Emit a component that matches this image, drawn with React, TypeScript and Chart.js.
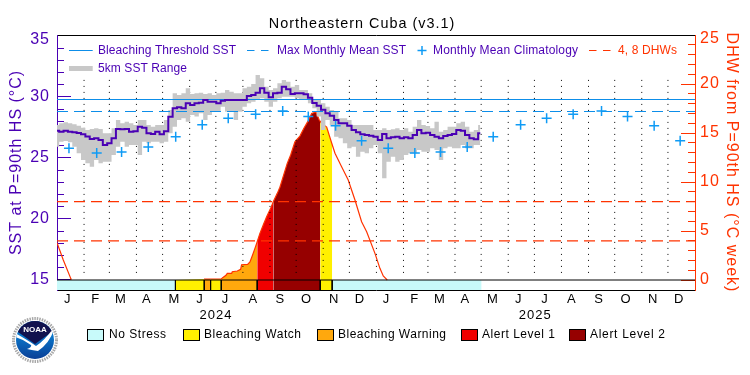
import React, { useEffect, useRef } from "react";
import { Chart, registerables } from "chart.js";

Chart.register(...registerables);

const titleText = "Northeastern Cuba (v3.1)";
const leftTitle = "SST at P=90th HS (°C)";
const rightTitle = "DHW from P=90th HS (°C week)";

const monthLabels = ["J","F","M","A","M","J","J","A","S","O","N","D","J","F","M","A","M","J","J","A","S","O","N","D"];
const monthLabelDays = [12.3,44.3,73.3,103,134.4,163.8,193,225,256,286,317.6,347,377.6,410,438.7,468,499.6,529,559,590,621,652,683,713];
const monthStartDays = [31,60,91,121,152,182,213,244,274,305,335,366,397,425,456,486,517,547,578,609,639,670,700];
const yearLabels = ["2024", "2025"];
const yearLabelDays = [182.2, 547.9];

const sstLabelTicks = [15, 20, 25, 30, 34.67];
const sstMajorTicks = [15, 20, 25, 30, 35];
const sstMinorTicks = [15,16,17,18,19,20,21,22,23,24,25,26,27,28,29,30,31,32,33,34,35];
const dhwLabelTicks = [0, 5, 10, 15, 20, 24.6];
const dhwMajorTicks = [0, 5, 10, 15, 20, 25];
const dhwMinorTicks = [0,1,2,3,4,5,6,7,8,9,10,11,12,13,14,15,16,17,18,19,20,21,22,23,24,25];

const sampleStepDays = 5;
const sstMean = [
  27.24,27.15,27.24,27.15,27.10,27.05,26.94,26.77,26.55,26.61,26.47,26.06,26.20,26.61,27.37,27.35,27.37,27.15,27.20,27.56,27.48,27.02,26.96,27.15,26.94,27.20,28.38,
  29.07,29.15,29.07,29.48,29.34,29.48,29.53,29.75,29.61,29.61,29.48,29.70,29.75,29.75,29.75,29.75,29.75,30.08,30.16,30.35,30.71,30.35,29.97,30.30,30.35,30.84,30.63,
  30.24,30.30,30.30,30.22,29.94,29.50,29.29,28.96,28.66,28.47,28.11,27.84,27.84,27.65,27.29,27.10,26.94,26.88,26.83,26.75,
  26.47,26.96,26.61,26.69,26.74,26.61,26.69,26.61,26.88,27.29,27.02,27.07,26.88,26.74,26.61,26.80,26.88,26.96,27.29,27.24,26.88,26.61,26.53,27.02,
];
const sstMax = [
  27.70,27.84,27.92,27.84,27.76,27.65,27.48,27.29,27.37,27.43,27.37,27.02,27.02,27.43,28.11,27.84,27.97,27.84,27.70,28.11,28.11,27.70,27.56,27.70,27.70,28.11,28.93,
  30.30,30.16,30.30,30.71,30.24,30.30,30.35,30.24,30.30,30.16,30.30,30.35,30.57,30.43,30.30,30.30,30.71,30.84,31.06,31.80,31.53,30.84,30.57,30.71,31.12,31.39,31.25,
  30.84,30.98,30.57,30.57,30.30,29.75,29.75,29.48,29.20,28.93,28.79,28.25,28.25,28.11,27.70,27.70,27.70,27.70,27.70,27.29,
  27.29,27.43,27.29,27.35,27.43,27.29,27.43,27.15,27.56,28.11,27.70,27.62,27.43,27.97,27.15,27.29,27.56,27.56,27.84,27.97,27.56,27.15,27.29,27.70,
];
const sstMin = [
  25.92,26.33,26.39,26.28,25.92,25.38,24.83,24.56,24.29,24.83,24.56,24.70,24.70,25.24,25.92,26.33,25.92,26.06,26.06,25.24,26.33,26.20,26.33,26.33,26.20,26.33,27.02,
  27.57,28.11,28.25,27.97,28.52,28.39,28.66,28.11,28.52,28.79,28.79,29.20,28.79,28.79,28.11,28.79,29.20,29.48,29.61,29.75,29.89,29.61,29.20,29.61,29.89,30.02,30.02,
  30.02,29.89,29.75,29.83,29.48,29.07,28.39,27.29,28.11,27.70,26.75,26.61,26.20,25.79,25.93,25.11,25.52,25.38,25.79,26.06,
  25.38,23.33,24.70,25.10,24.70,24.83,25.24,25.38,25.38,25.65,25.51,25.51,25.79,25.65,24.83,25.79,25.92,25.79,25.79,26.06,25.79,25.79,26.06,26.06,
];

const climatologyDays = [13.7,45.5,74,104.6,136,166.4,196.2,227.6,258.6,287.9,319.2,349,379.5,410,439.5,470,499.8,531.2,561,591.4,623.9,653.7,684.2,714];
const climatologySst = [25.8,25.4,25.5,25.9,26.75,27.73,28.25,28.58,28.85,28.39,27.65,26.42,25.8,25.4,25.5,25.9,26.75,27.73,28.25,28.58,28.85,28.39,27.65,26.42];
const bleachingThreshold = 29.793;
const maxMonthlyMean = 28.81;
const dhwGuides = [4, 8];

const dhwDays = [0,7.2,15.7,16,20,168.4,188.2,189.8,193.6,195.1,200.1,200.8,206.6,210.4,211.5,218.4,221.1,224.1,226.8,229.4,232.5,236.3,240.2,244.8,247.8,252.4,255.4,258.5,263.8,267.7,272.6,278.3,282.9,287.9,291.7,296.7,300.5,303,309,314.6,318.5,326.1,333.7,335.6,341.4,349,354.8,364.3,370,373.8,378.4];
const dhwValues = [3.8,2.04,0.17,0,null,0.1,0.1,0.24,0.48,0.68,0.68,0.85,0.92,1.09,1.56,1.6,1.84,2.55,3.23,3.91,4.76,5.61,6.46,7.31,7.99,8.84,9.46,10.37,11.9,12.76,14.1,14.69,15.48,16.26,17.0,17.14,16.33,16.0,15.6,14.0,12.93,11.56,10.2,9.69,8.16,5.95,4.93,2.72,1.19,0.41,0];

const stressStart = [0,135.7,168.7,176,188.2,229.4,247.8,301.6,315.3];
const stressEnd = [135.7,168.7,176,188.2,229.4,247.8,301.6,315.3,486.5];
const stressLevel = [0,1,2,1,2,3,4,1,0];
const stressSeparatorDays = [135.7,168.7,176,188.2,229.4,301.6,315.3];

const stressNames = ["No Stress", "Bleaching Watch", "Bleaching Warning", "Alert Level 1", "Alert Level 2"];
const stressColors = ["#c8fafa", "#fff000", "#ffa80d", "#f00000", "#960000"];

const PURPLE = "#4a00b4";
const RED = "#ff3300";
const BLUE = "#0d8ee9";
const CROSS = "#0f9bf5";
const GREY = "#c8c8c8";
const FONT = "'Liberation Sans'";

const X_MAX = 731;
const SST_MIN = 14.18, SST_MAX = 35.08;
const DHW_MIN = -1.02, DHW_MAX = 25;

function dhwAt(d: number) {
  for (let i = 0; i < dhwDays.length - 1; i++) {
    const a = dhwValues[i], b = dhwValues[i + 1];
    if (a == null || b == null) continue;
    if (d >= dhwDays[i] && d <= dhwDays[i + 1]) {
      return a + ((b - a) * (d - dhwDays[i])) / (dhwDays[i + 1] - dhwDays[i]);
    }
  }
  return 0;
}

function fitText(ctx: any, text: string, x: number, y: number, width: number, color: string, size = 12) {
  ctx.font = `${size}px ${FONT}`;
  ctx.letterSpacing = "0px";
  const w = ctx.measureText(text).width;
  ctx.letterSpacing = `${(width - w) / (text.length - 1)}px`;
  ctx.fillStyle = color;
  ctx.textAlign = "left";
  ctx.textBaseline = "middle";
  ctx.fillText(text, x, y);
  ctx.letterSpacing = "0px";
}

const spacingPlugin = {
  id: "spacing",
  afterLayout(chart: any) {
    // the reference's title sits left of the canvas centre
    chart.titleBlock.right -= 26;
  },
  beforeDraw(chart: any) {
    chart.ctx.letterSpacing = "1px";
  },
};

const keyPlugin = {
  id: "key",
  afterDraw(chart: any) {
    const c = chart.ctx;
    c.save();
    const seg = (x1: number, x2: number, y: number, color: string, w: number, dash: number[]) => {
      c.beginPath();
      c.setLineDash(dash);
      c.strokeStyle = color;
      c.lineWidth = w;
      c.moveTo(x1, y);
      c.lineTo(x2, y);
      c.stroke();
      c.setLineDash([]);
    };
    seg(69, 92.7, 50.5, BLUE, 1, []);
    fitText(c, "Bleaching Threshold SST", 98, 51, 138, PURPLE);
    seg(247, 269, 50.5, BLUE, 1, [7.5, 6.5]);
    fitText(c, "Max Monthly Mean SST", 277, 51, 129, PURPLE);
    seg(417.5, 426.5, 50.5, CROSS, 1.5, []);
    c.beginPath();
    c.strokeStyle = CROSS;
    c.lineWidth = 1.5;
    c.moveTo(422, 46);
    c.lineTo(422, 55);
    c.stroke();
    fitText(c, "Monthly Mean Climatology", 433, 51, 145, PURPLE);
    seg(589, 612, 50.5, RED, 1, [7.5, 6.5]);
    fitText(c, "4, 8 DHWs", 618, 51, 59, RED);
    seg(69, 92.7, 68.5, GREY, 5, []);
    fitText(c, "5km SST Range", 98, 69, 89, PURPLE);

    const swatchX = [87.5, 183.5, 317.5, 461.5, 569.5];
    const labelX = [109, 204, 338, 482, 590];
    const labelW = [57, 97, 108, 73, 75];
    stressNames.forEach((name, i) => {
      c.fillStyle = stressColors[i];
      c.fillRect(swatchX[i], 329.5, 16, 11);
      c.strokeStyle = "#000";
      c.lineWidth = 1;
      c.strokeRect(swatchX[i], 329.5, 16, 11);
      fitText(c, name, labelX[i], 335, labelW[i], "#000");
    });

    // NOAA emblem
    const cx = 35, cy = 340;
    c.fillStyle = "#fff";
    c.beginPath();
    c.arc(cx, cy, 24, 0, Math.PI * 2);
    c.fill();
    c.strokeStyle = "#a8a8a8";
    c.lineWidth = 3;
    c.setLineDash([1.5, 1]);
    c.beginPath();
    c.arc(cx, cy, 21.5, 0, Math.PI * 2);
    c.stroke();
    c.setLineDash([]);
    c.save();
    c.beginPath();
    c.arc(cx, cy, 19, 0, Math.PI * 2);
    c.clip();
    const g = c.createLinearGradient(0, cy - 5, 0, cy + 19);
    g.addColorStop(0, "#0a78cc");
    g.addColorStop(1, "#0a3f96");
    c.fillStyle = g;
    c.fillRect(cx - 20, cy - 20, 40, 40);
    c.fillStyle = "#12124e";
    c.beginPath();
    c.moveTo(cx - 20, cy - 20);
    c.lineTo(cx + 20, cy - 20);
    c.lineTo(cx + 20, cy - 10);
    c.quadraticCurveTo(cx + 8, cy - 2, cx, cy + 4);
    c.quadraticCurveTo(cx - 8, cy - 2, cx - 20, cy - 10);
    c.closePath();
    c.fill();
    c.fillStyle = "#fff";
    c.beginPath();
    c.moveTo(cx - 20, cy - 7);
    c.quadraticCurveTo(cx - 6, cy + 1, cx + 1, cy + 6);
    c.quadraticCurveTo(cx + 10, cy, cx + 20, cy - 14);
    c.quadraticCurveTo(cx + 16, cy + 2, cx + 3, cy + 11);
    c.quadraticCurveTo(cx - 4, cy + 10, cx - 8, cy + 9);
    c.quadraticCurveTo(cx - 3, cy + 7, cx - 4, cy + 5);
    c.quadraticCurveTo(cx - 12, cy - 1, cx - 20, cy - 3);
    c.closePath();
    c.fill();
    c.restore();
    c.font = `bold 8px ${FONT}`;
    c.letterSpacing = "0px";
    c.fillStyle = "#fff";
    c.textAlign = "center";
    c.textBaseline = "middle";
    c.fillText("NOAA", cx, cy - 10);
    c.restore();
  },
};

const tickList = (list: number[]) => (s: any) => {
  s.ticks = list.map((value) => ({ value }));
};
const fixWidth = (w: number) => (s: any) => {
  s.width = w;
};
const fixHeight = (h: number) => (s: any) => {
  s.height = h;
};
const markAxis = (side: string, min: number, max: number, list: number[], length: number, color: string) => ({
  type: "linear",
  axis: "y",
  position: side,
  weight: 0,
  min,
  max,
  afterBuildTicks: tickList(list),
  afterFit: fixWidth(0),
  grid: { drawOnChartArea: false, drawTicks: true, tickLength: -length, color, tickColor: color, tickWidth: 1 },
  border: { display: false },
  ticks: { display: false, autoSkip: false },
});

export default function App() {
  const ref = useRef<HTMLCanvasElement>(null);
  useEffect(() => {
    const lineBase = { pointRadius: 0, tension: 0, spanGaps: false, fill: false };

    const areas = stressStart.map((s, i) => {
      const e = stressEnd[i];
      const inner: any[] = [];
      dhwDays.forEach((d, k) => {
        if (d > s && d < e && dhwValues[k] != null) inner.push({ x: d, y: dhwValues[k] });
      });
      return {
        ...lineBase,
        label: `DHW ${stressNames[stressLevel[i]]} ${i}`,
        data: [{ x: s, y: dhwAt(s) }, ...inner, { x: e, y: dhwAt(e) }],
        yAxisID: "y2",
        borderWidth: 0,
        backgroundColor: stressColors[stressLevel[i]],
        fill: { value: 0 },
        order: 30,
        hidden: stressLevel[i] === 0,
      };
    });

    const stressBars = stressStart.map((s, i) => ({
      ...lineBase,
      label: `Status ${stressNames[stressLevel[i]]} ${i}`,
      data: [{ x: s, y: 0 }, { x: stressEnd[i], y: 0 }],
      yAxisID: "y2",
      borderWidth: 0,
      backgroundColor: stressColors[stressLevel[i]],
      fill: { value: DHW_MIN },
      order: 29,
    }));

    const days = sstMean.map((_, i) => i * sampleStepDays);

    const chart = new Chart(ref.current as HTMLCanvasElement, {
      type: "line",
      data: {
        datasets: [
          ...areas,
          ...stressBars,
          {
            ...lineBase,
            label: "DHW",
            data: dhwDays.map((d, i) => ({ x: d, y: dhwValues[i] })),
            yAxisID: "y2",
            borderColor: RED,
            borderWidth: 1.2,
            order: 28,
          },
          {
            ...lineBase,
            label: "Month dividers",
            data: monthStartDays.flatMap((d) => [{ x: d, y: 31.4 }, { x: d, y: 15.2 }, { x: d, y: null }]),
            yAxisID: "y",
            borderColor: "#000",
            borderWidth: 1,
            borderDash: [1, 5],
            order: 25,
          },
          {
            ...lineBase,
            label: "5km SST Range",
            data: days.map((d, i) => ({ x: d, y: sstMax[i] })),
            yAxisID: "y",
            borderWidth: 0,
            stepped: "middle",
            backgroundColor: GREY,
            fill: { target: "+1" },
            order: 20,
          },
          {
            ...lineBase,
            label: "5km SST Range min",
            data: days.map((d, i) => ({ x: d, y: sstMin[i] })),
            yAxisID: "y",
            borderWidth: 0,
            stepped: "middle",
            order: 20,
          },
          {
            ...lineBase,
            label: "Bleaching Threshold SST",
            data: [{ x: 0, y: bleachingThreshold }, { x: X_MAX, y: bleachingThreshold }],
            yAxisID: "y",
            borderColor: BLUE,
            borderWidth: 1,
            order: 15,
          },
          {
            ...lineBase,
            label: "Max Monthly Mean SST",
            data: [{ x: 0, y: maxMonthlyMean }, { x: X_MAX, y: maxMonthlyMean }],
            yAxisID: "y",
            borderColor: BLUE,
            borderWidth: 1,
            borderDash: [11, 6],
            order: 15,
          },
          ...dhwGuides.map((v) => ({
            ...lineBase,
            label: `${v} DHWs`,
            data: [{ x: 0, y: v }, { x: X_MAX, y: v }],
            yAxisID: "y2",
            borderColor: RED,
            borderWidth: 1.3,
            borderDash: [11, 6],
            order: 14,
          })),
          {
            ...lineBase,
            label: "Status top",
            data: [{ x: 0, y: 0 }, { x: X_MAX, y: 0 }],
            yAxisID: "y2",
            borderColor: "#000",
            borderWidth: 1,
            order: 12,
          },
          {
            ...lineBase,
            label: "Status dividers",
            data: stressSeparatorDays.flatMap((d) => [{ x: d, y: 0 }, { x: d, y: DHW_MIN }, { x: d, y: null }]),
            yAxisID: "y2",
            borderColor: "#000",
            borderWidth: 1,
            order: 12,
          },
          {
            ...lineBase,
            label: "SST",
            data: days.map((d, i) => ({ x: d, y: sstMean[i] })),
            yAxisID: "y",
            borderColor: PURPLE,
            borderWidth: 2,
            stepped: "middle",
            order: 10,
          },
          {
            label: "Monthly Mean Climatology",
            data: climatologyDays.map((d, i) => ({ x: d, y: climatologySst[i] })),
            yAxisID: "y",
            showLine: false,
            pointStyle: "cross",
            pointRadius: 5,
            pointBorderWidth: 1.5,
            pointBorderColor: CROSS,
            order: 5,
          },
        ] as any,
      },
      plugins: [spacingPlugin, keyPlugin],
      options: {
        responsive: false,
        animation: false,
        parsing: false,
        normalized: false,
        layout: { padding: 0 },
        events: [],
        plugins: {
          legend: { display: false },
          tooltip: { enabled: false },
          title: {
            display: true,
            text: titleText,
            color: "#000",
            font: { family: FONT, size: 14.4, weight: "normal", lineHeight: 1.2 },
            padding: { top: 15.4, bottom: 2.32 },
          },
        },
        scales: {
          x: {
            type: "linear",
            position: "bottom",
            weight: 0,
            min: 0,
            max: X_MAX,
            afterBuildTicks: tickList(monthLabelDays),
            afterFit: fixHeight(16),
            grid: { display: false, drawTicks: false },
            border: { display: true, color: "#000", width: 1 },
            ticks: {
              autoSkip: false,
              maxRotation: 0,
              color: "#000",
              padding: 2,
              font: { family: FONT, size: 13 },
              callback: (_v: any, i: number) => monthLabels[i],
            },
          },
          xYear: {
            type: "linear",
            axis: "x",
            position: "bottom",
            weight: 1,
            min: 0,
            max: X_MAX,
            afterBuildTicks: tickList(yearLabelDays),
            afterFit: fixHeight(69),
            grid: { display: false, drawTicks: false },
            border: { display: false },
            ticks: {
              autoSkip: false,
              maxRotation: 0,
              color: "#000",
              padding: 2,
              font: { family: FONT, size: 13 },
              callback: (_v: any, i: number) => yearLabels[i],
            },
          },
          xTop: {
            type: "linear",
            axis: "x",
            position: "top",
            min: 0,
            max: X_MAX,
            afterFit: fixHeight(0),
            grid: { display: false, drawTicks: false },
            border: { display: true, color: "#000", width: 1 },
            ticks: { display: false },
          },
          y: {
            type: "linear",
            position: "left",
            weight: 1,
            min: SST_MIN,
            max: SST_MAX,
            afterBuildTicks: tickList(sstLabelTicks),
            afterFit: fixWidth(57),
            grid: { drawOnChartArea: false, drawTicks: false },
            border: { display: true, color: PURPLE, width: 1 },
            ticks: {
              autoSkip: false,
              color: PURPLE,
              padding: 7,
              font: { family: FONT, size: 16 },
              callback: (v: any) => String(Math.round(v / 5) * 5),
            },
            title: {
              display: true,
              text: leftTitle,
              color: PURPLE,
              font: { family: FONT, size: 16, lineHeight: 1.2 },
              padding: { top: 7, bottom: 0 },
            },
          },
          yMajor: markAxis("left", SST_MIN, SST_MAX, sstMajorTicks, 14, PURPLE),
          yMinor: markAxis("left", SST_MIN, SST_MAX, sstMinorTicks, 7, PURPLE),
          y2: {
            type: "linear",
            position: "right",
            weight: 1,
            min: DHW_MIN,
            max: DHW_MAX,
            afterBuildTicks: tickList(dhwLabelTicks),
            afterFit: fixWidth(55),
            grid: { drawOnChartArea: false, drawTicks: false },
            border: { display: true, color: RED, width: 1 },
            ticks: {
              autoSkip: false,
              color: RED,
              padding: 5,
              font: { family: FONT, size: 16 },
              callback: (v: any) => String(Math.round(v / 5) * 5),
            },
            title: {
              display: true,
              text: rightTitle,
              color: RED,
              font: { family: FONT, size: 16, lineHeight: 1.2 },
              padding: { top: 9, bottom: 0 },
            },
          },
          y2Major: markAxis("right", DHW_MIN, DHW_MAX, dhwMajorTicks, 14, RED),
          y2Minor: markAxis("right", DHW_MIN, DHW_MAX, dhwMinorTicks, 7, RED),
        },
      } as any,
    });
    return () => chart.destroy();
  }, []);

  return (
    <div style={{ position: "absolute", left: 0, top: 0, width: 750, height: 375, background: "#fff" }}>
      <canvas ref={ref} width={750} height={375} style={{ display: "block" }} />
    </div>
  );
}
